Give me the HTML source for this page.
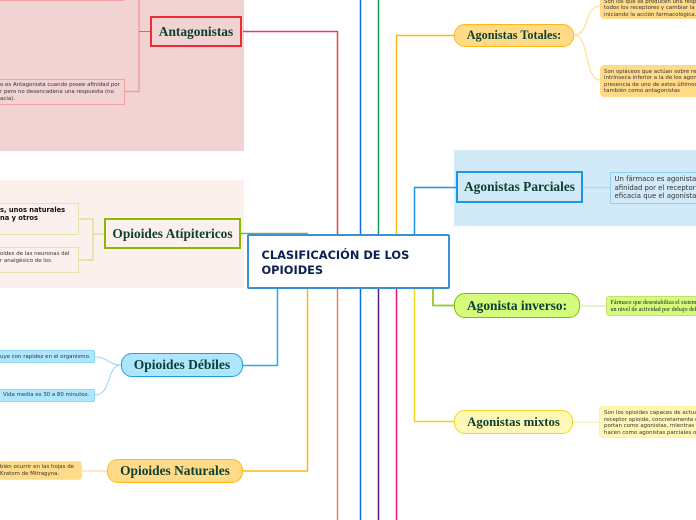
<!DOCTYPE html>
<html><head><meta charset="utf-8"><style>
html,body{margin:0;padding:0;background:#fff}
#p{position:relative;width:696px;height:520px;overflow:hidden;background:#fff}
svg{position:absolute;left:0;top:0}
.b{position:absolute;box-sizing:border-box;display:flex;align-items:center;justify-content:center;font:bold 13.4px "Liberation Serif",serif;color:#0d4032;white-space:nowrap}
.t{position:absolute;font-family:"DejaVu Sans",sans-serif;color:#333;white-space:nowrap;font-size:5.45px;line-height:6.6px}
.l{position:absolute;box-sizing:border-box}
</style></head><body><div id="p">
<div class="l" style="left:0;top:0;width:244px;height:151px;background:#f1d3d3"></div>
<div class="l" style="left:0;top:180px;width:244px;height:108px;background:#fcf0ec"></div>
<div class="l" style="left:454px;top:150px;width:242px;height:76px;background:#d2e9f8"></div>
<svg width="696" height="520" fill="none">
<path d="M243 31.5H337.5V234" stroke="#e8424a" stroke-width="1.5"/>
<path d="M337.5 289V520" stroke="#f47a5c" stroke-width="1.5"/>
<path d="M360.500 0V520" stroke="#0f6ee0" stroke-width="1.5"/>
<path d="M378.500 0V234" stroke="#1f9a55" stroke-width="1.5"/>
<path d="M378.500 289V520" stroke="#5b1a8c" stroke-width="1.5"/>
<path d="M454 35.5H396.500V234" stroke="#fdb813" stroke-width="1.5"/>
<path d="M396.500 289V520" stroke="#f0107c" stroke-width="1.5"/>
<path d="M456 187.5H414.500V234" stroke="#1e96e6" stroke-width="1.5"/>
<path d="M414.500 289V421.500H454" stroke="#eed81f" stroke-width="1.5"/>
<path d="M433 289V305.500H454" stroke="#98c62a" stroke-width="1.8"/>
<path d="M243 365.500H277.500V289" stroke="#2aa8e8" stroke-width="1.5"/>
<path d="M243 471H307.500V289" stroke="#fdb813" stroke-width="1.5"/>
<path d="M241 233.500H308" stroke="#7fae4a" stroke-width="1.5"/>
<path d="M139 0V91.500H124" stroke="#f2a0a3" stroke-width="1.5"/>
<path d="M150 31.500H139" stroke="#e8626a" stroke-width="1"/>
<path d="M104 234H93M78 219H93V260H78" stroke="#d5e29a" stroke-width="1.5"/>
<path d="M121 365C108 365 108 357 95 357M121 365C106 365 112 395 95 395" stroke="#a5dcf8" stroke-width="1.2"/>
<path d="M107 471H81" stroke="#ffe3a6" stroke-width="1.6"/>
<path d="M574 35C590 35 584 6 600 6M574 35C590 35 584 80 600 80" stroke="#ffdf9a" stroke-width="1.2"/>
<path d="M583 187.500H610" stroke="#a5dcf8" stroke-width="1.2"/>
<path d="M580 306H606" stroke="#e2efb6" stroke-width="1.4"/>
<path d="M573 422H599" stroke="#fbf2a5" stroke-width="1.2"/>
</svg>
<div class="l" style="left:-10px;top:-10px;width:134px;height:10.500px;border:1.5px solid #f2a0a3"></div>
<div class="l" style="left:-10px;top:79px;width:134.500px;height:26px;border:1.5px solid #f2a0a3"></div>
<div class="t" style="left:0;top:82px">o es Antagonista cuando posee afinidad por</div>
<div class="t" style="left:0;top:89px">r pero no desencadena una respuesta (no</div>
<div class="t" style="left:0;top:95.500px">acia).</div>
<div class="b" style="left:150px;top:16px;width:92px;height:31px;border:2px solid #ee2c36;background:#f1d3d3">Antagonistas</div>
<div class="l" style="left:-10px;top:203px;width:88.500px;height:32px;border:1.5px solid #dde6ac"></div>
<div class="t" style="left:0;top:206px;font-size:6.700px;line-height:8.200px;font-weight:bold;color:#111">s, unos naturales<br>na y otros</div>
<div class="l" style="left:-10px;top:247px;width:88.500px;height:26px;border:1.5px solid #dde6ac"></div>
<div class="t" style="left:0;top:251px">oides de las neuronas del<br>r analgésico de los</div>
<div class="b" style="left:104px;top:218px;width:137px;height:31px;border:2px solid #8ab800;background:#fcf0ec">Opioides Atípitericos</div>
<div class="l" style="left:247px;top:234px;width:203px;height:55px;background:#fff;border:2.500px solid #3a90d0;border-radius:2px"></div>
<div class="t" style="left:261.500px;top:248px;font-size:11.400px;line-height:14.500px;font-weight:bold;color:#0a2050">CLASIFICACIÓN DE LOS<br>OPIOIDES</div>
<div class="l" style="left:-10px;top:350px;width:105px;height:13px;background:#aee5ff;border:1.5px solid #8ed8fb;border-radius:2px"></div>
<div class="t" style="left:0;top:353.500px">uye con rapidez en el organismo.</div>
<div class="l" style="left:-10px;top:389px;width:105px;height:13px;background:#aee5ff;border:1.5px solid #8ed8fb;border-radius:2px"></div>
<div class="t" style="left:3px;top:392px">Vida media es 30 a 80 minutos.</div>
<div class="b" style="left:121px;top:353px;width:122px;height:24px;background:#aee5ff;border:1.5px solid #1ca0e0;border-radius:11px;font-size:13.500px">Opioides Débiles</div>
<div class="l" style="left:-10px;top:461px;width:91.500px;height:19px;background:#ffdb88;border:1px solid #ffe3a6;border-radius:3px"></div>
<div class="t" style="left:0;top:464px">bién ocurrir en las hojas de<br>Kratom de Mitragyna.</div>
<div class="b" style="left:107px;top:459px;width:136px;height:24px;background:#ffdb88;border:1.5px solid #fdb813;border-radius:11px">Opioides Naturales</div>
<div class="b" style="left:454px;top:24px;width:120px;height:23px;background:#ffdb88;border:1.5px solid #fdb813;border-radius:11px;font-size:12.200px">Agonistas Totales:</div>
<div class="l" style="left:600px;top:-10px;width:110px;height:29px;background:#ffdb88;border-radius:4px"></div>
<div class="t" style="left:604px;top:-1.500px">Son los que se producen una resp<br>todos los receptores y cambiar la<br>iniciando la acción farmacológica.</div>
<div class="l" style="left:600px;top:65px;width:110px;height:32px;background:#ffdb88;border-radius:4px"></div>
<div class="t" style="left:604px;top:68.500px">Son opiáceos que actúan sobre re<br>intrínseca inferior a la de los agon<br>presencia de uno de estos últimos<br>también como antagonistas</div>
<div class="b" style="left:456px;top:171px;width:127px;height:32px;background:#d2e9f8;border:2.500px solid #1e96e6">Agonistas Parciales</div>
<div class="l" style="left:610px;top:172px;width:100px;height:32px;background:#d2e9f8;border:1.500px solid #8fd0f5"></div>
<div class="t" style="left:614.500px;top:175px;font-size:6.900px;line-height:8.500px">Un fármaco es agonista<br>afinidad por el receptor<br>eficacia que el agonista</div>
<div class="b" style="left:454px;top:293px;width:126px;height:25px;background:#d3fb7c;border:1.500px solid #8ab800;border-radius:11px">Agonista inverso:</div>
<div class="l" style="left:606px;top:296px;width:100px;height:20px;background:#d3fb7c;border:1px solid #c5e06a;border-radius:3px"></div>
<div class="t" style="left:610.500px;top:300px;font-family:'Liberation Serif',serif;font-size:6px;line-height:7px;color:#222">Fármaco que desestabiliza el sistem<br>un nivel de actividad por debajo del</div>
<div class="b" style="left:454px;top:410px;width:119px;height:24px;background:#fff7b5;border:1.500px solid #eed81f;border-radius:11px;font-size:12.800px">Agonistas mixtos</div>
<div class="l" style="left:599px;top:406px;width:110px;height:32px;background:#fff7b5;border:1px solid #fbf2a5;border-radius:4px"></div>
<div class="t" style="left:604px;top:410px;font-size:5.450px">Son los opioides capaces de actua<br>receptor opioide, concretamente e<br>portan como agonistas, mientras<br>hacen como agonistas parciales o</div>
</div></body></html>
